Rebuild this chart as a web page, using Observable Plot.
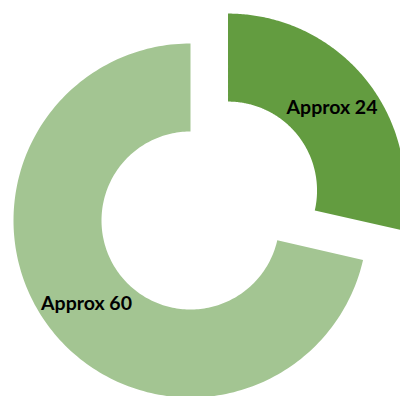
<!DOCTYPE html>
<html><head><meta charset="utf-8">
<script src="https://cdn.jsdelivr.net/npm/d3@7"></script>
<script src="https://cdn.jsdelivr.net/npm/@observablehq/plot@0.6"></script>
<style>body{margin:0;background:#fff}#chart{width:400px;height:396px;overflow:hidden}</style>
</head><body><div id="chart"></div>
<script>
const categories = ["Approx 24", "Approx 60"];
const values = [24, 60];
const colors = ["#639C40", "#A3C592"];
const exploded = [true, false];

const W = 400, H = 396;
const cx = 190, cy = 220, r0 = 89, r1 = 177, explode = 48;

const pie = d3.pie().sort(null).value(d => d.value)(categories.map((c, i) => ({name: c, value: values[i], color: colors[i], exploded: exploded[i]})));

const pts = [];
const labels = [];
for (const s of pie) {
  const mid = (s.startAngle + s.endAngle) / 2;
  const ox = s.data.exploded ? explode * Math.sin(mid) : 0;
  const oy = s.data.exploded ? -explode * Math.cos(mid) : 0;
  const n = 200;
  for (let k = 0; k <= n; k++) {
    const a = s.startAngle + (s.endAngle - s.startAngle) * k / n;
    pts.push({name: s.data.name, x: cx + ox + r1 * Math.sin(a), y: cy + oy - r1 * Math.cos(a)});
  }
  for (let k = n; k >= 0; k--) {
    const a = s.startAngle + (s.endAngle - s.startAngle) * k / n;
    pts.push({name: s.data.name, x: cx + ox + r0 * Math.sin(a), y: cy + oy - r0 * Math.cos(a)});
  }
  const rm = (r0 + r1) / 2;
  labels.push({name: s.data.name, x: cx + ox + rm * Math.sin(mid), y: cy + oy - rm * Math.cos(mid)});
}

const chart = Plot.plot({
  width: W, height: H,
  margin: 0,
  x: {domain: [0, W], range: [0, W], axis: null},
  y: {domain: [0, H], range: [0, H], axis: null},
  color: {domain: categories, range: colors},
  style: {background: "#fff"},
  marks: [
    Plot.line(pts, {x: "x", y: "y", z: "name", fill: "name", stroke: null}),
    Plot.text(labels, {x: "x", y: "y", text: "name", fill: "#000", fontSize: 19.5, fontWeight: "bold", fontFamily: "Lato"})
  ]
});
document.getElementById("chart").appendChild(chart);
</script>
</body></html>
